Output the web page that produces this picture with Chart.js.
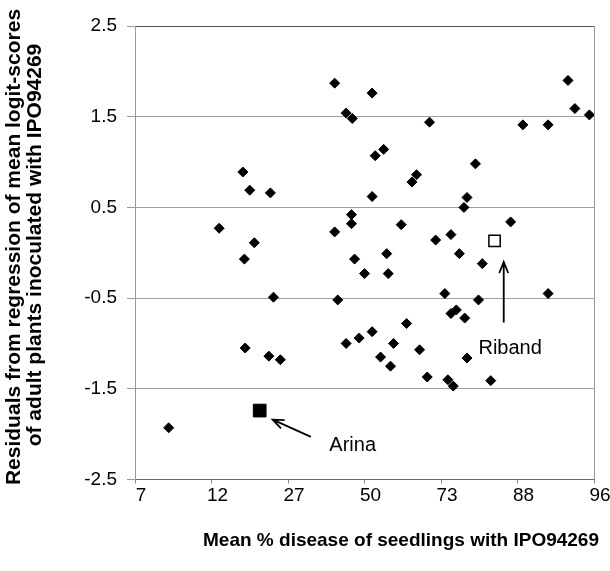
<!DOCTYPE html>
<html>
<head>
<meta charset="utf-8">
<script src="https://cdn.jsdelivr.net/npm/chart.js@4"></script>
<style>
  html, body { margin: 0; padding: 0; background: #fff; }
</style>
</head>
<body>
<canvas id="residChart" width="610" height="571"></canvas>
<script>
// seedling disease on the transformed axis (-3..3), residuals of adult plant scores
const seedlingScore = [-2.56, -1.90, -1.59, -1.50, -1.23, -1.44, -1.57, -1.19, -1.56, -1.25, -1.10,
  -0.39, -0.24, -0.16, -0.17, -0.17, -0.39, -0.13, 0.00, -0.35, -0.24, -0.07, 0.10, 0.10, 0.14,
  0.25, 0.10, 0.48, 0.29, 0.31, 0.38, 0.21, 0.34, 0.55, 0.72, 0.82, 0.68, 0.62, 0.85, 0.93, 1.13,
  1.24, 1.05, 1.13, 1.20, 1.31, 1.09, 1.16, 1.34, 1.30, 1.34, 1.45, 1.54, 1.49, 1.65, 1.91, 2.07,
  2.40, 2.40, 2.66, 2.75, 2.94];
const residual = [-1.93, 0.27, 0.89, 0.69, 0.66, 0.11, -0.07, -0.49, -1.05, -1.14, -1.18,
  1.87, 1.54, 1.48, 0.42, 0.32, 0.23, -0.07, -0.23, -0.52, -1.00, -0.94, -0.87, 1.76, 1.07,
  1.14, 0.62, 0.31, -0.01, -0.23, -1.00, -1.15, -1.25, -0.78, -1.07, -1.37, 0.86, 0.78, 1.44, 0.14, 0.20,
  -0.01, -0.45, -0.67, -0.63, -0.72, -1.40, -1.47, -1.16, 0.50, 0.61, 0.98, -0.12, -0.52, -1.41, 0.34, 1.41,
  1.41, -0.45, 1.90, 1.59, 1.52];

// highlighted cultivars
const arinaPoint = [-1.37, -1.74];
const ribandPoint = [1.70, 0.13];

// axis ticks
const xTickValues = [-3, -2, -1, 0, 1, 2, 3];
const xTickLabels = ['7', '12', '27', '50', '73', '88', '96'];
const yTickValues = [-2.5, -1.5, -0.5, 0.5, 1.5, 2.5];

// labelled arrows, in axis units
const notes = [
  { text: 'Arina', at: [-0.46, -2.12], from: [-0.70, -2.03], to: [-1.20, -1.84] },
  { text: 'Riband', at: [1.49, -1.05], from: [1.82, -0.77], to: [1.82, -0.10] }
];

const FONT = '"Liberation Sans", Arial, sans-serif';

const points = seedlingScore.map((v, i) => ({ x: v, y: residual[i] }));

function arrow(ctx, x0, y0, x1, y1) {
  const ang = Math.atan2(y1 - y0, x1 - x0);
  const len = 12, spread = 0.38;
  ctx.beginPath();
  ctx.moveTo(x0, y0);
  ctx.lineTo(x1, y1);
  ctx.moveTo(x1 - len * Math.cos(ang - spread), y1 - len * Math.sin(ang - spread));
  ctx.lineTo(x1, y1);
  ctx.lineTo(x1 - len * Math.cos(ang + spread), y1 - len * Math.sin(ang + spread));
  ctx.stroke();
}

const notesPlugin = {
  id: 'notes',
  afterDraw(chart) {
    const { ctx, scales: { x, y } } = chart;
    ctx.save();
    ctx.strokeStyle = '#000';
    ctx.fillStyle = '#000';
    ctx.lineWidth = 1.8;
    notes.forEach(n => {
      arrow(ctx, x.getPixelForValue(n.from[0]), y.getPixelForValue(n.from[1]),
        x.getPixelForValue(n.to[0]), y.getPixelForValue(n.to[1]));
      ctx.font = '20px ' + FONT;
      ctx.textAlign = 'left';
      ctx.textBaseline = 'middle';
      ctx.fillText(n.text, x.getPixelForValue(n.at[0]), y.getPixelForValue(n.at[1]));
    });

    // axis titles
    ctx.font = 'bold 19px ' + FONT;
    ctx.textAlign = 'center';
    ctx.textBaseline = 'middle';
    ctx.fillText('Mean % disease of seedlings with IPO94269', 401, 541);

    ctx.font = 'bold 21px ' + FONT;
    ctx.translate(14, 247);
    ctx.rotate(-Math.PI / 2);
    ctx.fillText('Residuals from regression of mean logit-scores', 0, 0);
    ctx.fillText('of adult plants inoculated with IPO94269', 2, 21);
    ctx.restore();
  }
};

new Chart(document.getElementById('residChart'), {
  type: 'scatter',
  data: {
    datasets: [
      {
        data: points,
        pointStyle: 'rectRot',
        pointRadius: 5,
        borderWidth: 1,
        backgroundColor: '#000',
        borderColor: '#000'
      },
      {
        data: [{ x: arinaPoint[0], y: arinaPoint[1] }],
        pointStyle: 'rect',
        pointRadius: 9,
        borderWidth: 1,
        backgroundColor: '#000',
        borderColor: '#000'
      },
      {
        data: [{ x: ribandPoint[0], y: ribandPoint[1] }],
        pointStyle: 'rect',
        pointRadius: 8,
        borderWidth: 1.5,
        backgroundColor: '#fff',
        borderColor: '#000'
      }
    ]
  },
  options: {
    responsive: false,
    animation: false,
    layout: { padding: { top: 26, right: 16, left: 0, bottom: 0 } },
    plugins: { legend: { display: false }, tooltip: { enabled: false } },
    scales: {
      x: {
        type: 'linear',
        min: -3,
        max: 3,
        afterBuildTicks: s => { s.ticks = xTickValues.map(v => ({ value: v })); },
        afterFit: s => { s.height = 91.5; },
        ticks: {
          callback: (v, i) => xTickLabels[i],
          font: { family: FONT, size: 19 },
          color: '#000',
          padding: 1,
          labelOffset: 6,
          maxRotation: 0,
          autoSkip: false
        },
        grid: {
          color: c => c.index === xTickValues.length - 1 ? '#9a9a9a' : 'rgba(0,0,0,0)',
          tickColor: '#888',
          tickLength: 4
        },
        border: { color: '#6a6a6a' }
      },
      y: {
        min: -2.5,
        max: 2.5,
        afterBuildTicks: s => { s.ticks = yTickValues.map(v => ({ value: v })); },
        afterFit: s => { s.width = 135; },
        ticks: {
          callback: v => v.toFixed(1),
          font: { family: FONT, size: 19 },
          color: '#000',
          padding: 10
        },
        grid: {
          color: c => c.tick && c.tick.value === 2.5 ? '#555' : '#a0a0a0',
          tickColor: '#999',
          tickLength: 8
        },
        border: { color: '#9a9a9a' }
      }
    }
  },
  plugins: [notesPlugin]
});
</script>
</body>
</html>
